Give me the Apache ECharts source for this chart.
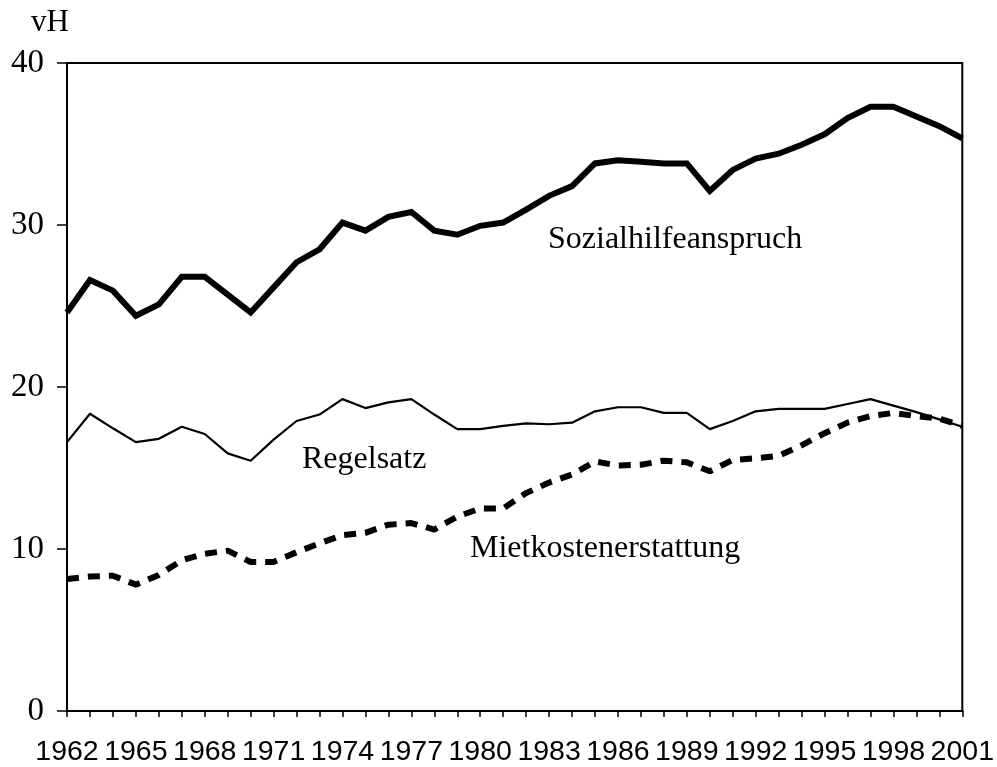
<!DOCTYPE html>
<html>
<head>
<meta charset="utf-8">
<script src="https://cdn.jsdelivr.net/npm/echarts@6/dist/echarts.min.js"></script>
<style>html,body{margin:0;padding:0;background:#fff;}#c{width:997px;height:767px;}</style>
</head>
<body>
<div id="c"></div>
<script>
var years = [];
for (var y = 1962; y <= 2001; y++) years.push(String(y));

var sozialhilfe = [24.6,26.6,25.95,24.4,25.1,26.8,26.8,25.7,24.6,26.15,27.7,28.5,30.15,29.65,30.5,
  30.8,29.65,29.4,29.95,30.15,30.95,31.8,32.4,33.8,34.0,33.9,33.8,33.8,32.1,33.4,34.1,34.4,
  34.95,35.6,36.6,37.3,37.3,36.7,36.1,35.35];
var regelsatz = [16.6,18.35,17.45,16.6,16.8,17.55,17.1,15.9,15.45,16.75,17.9,18.3,19.25,18.7,19.05,
  19.25,18.3,17.4,17.4,17.6,17.75,17.7,17.8,18.5,18.75,18.75,18.4,18.4,17.4,17.9,18.5,18.65,
  18.65,18.65,18.95,19.25,18.85,18.45,18.0,17.55];
var mietkosten = [8.15,8.3,8.35,7.8,8.4,9.3,9.7,9.9,9.2,9.2,9.8,10.35,10.85,11.0,11.5,
  11.6,11.2,12.0,12.5,12.5,13.45,14.1,14.6,15.4,15.15,15.2,15.45,15.35,14.8,15.5,15.6,15.75,
  16.4,17.15,17.8,18.2,18.4,18.2,18.05,17.6];
var yTicks = [0, 10, 20, 30, 40];

var chart = echarts.init(document.getElementById('c'), null, {renderer: 'canvas'});
var serif = '"Liberation Serif","Times New Roman",serif';
var sans = '"Liberation Sans",Arial,sans-serif';

chart.setOption({
  animation: false,
  backgroundColor: '#fff',
  grid: {left: 67, right: 32, top: 63, bottom: 56, show: true, borderColor: '#000', borderWidth: 2, backgroundColor: 'transparent'},
  xAxis: {
    type: 'category', data: years, boundaryGap: false,
    axisLine: {lineStyle: {color: '#000', width: 2}},
    axisTick: {show: true, interval: 0, length: 6, lineStyle: {color: '#000', width: 1.5}},
    axisLabel: {interval: 2, color: '#000', fontFamily: sans, fontSize: 28.5, margin: 27},
    splitLine: {show: false}
  },
  yAxis: {
    type: 'value', min: yTicks[0], max: yTicks[yTicks.length - 1], interval: 10,
    axisLine: {show: true, lineStyle: {color: '#000', width: 2}},
    axisTick: {show: true, length: 10, lineStyle: {color: '#000', width: 1.5}},
    axisLabel: {color: '#000', fontFamily: serif, fontSize: 33, margin: 23},
    splitLine: {show: false}
  },
  series: [
    {name: 'Sozialhilfeanspruch', type: 'line', data: sozialhilfe, symbol: 'none',
     lineStyle: {color: '#000', width: 6, join: 'miter'}},
    {name: 'Regelsatz', type: 'line', data: regelsatz, symbol: 'none',
     lineStyle: {color: '#000', width: 2.2}},
    {name: 'Mietkostenerstattung', type: 'line', data: mietkosten, symbol: 'none',
     lineStyle: {color: '#000', width: 6, type: [12, 9], cap: 'butt'}}
  ],
  graphic: [
    {type: 'text', left: 31, top: 7, style: {text: 'vH', font: '31px ' + serif, fill: '#000'}},
    {type: 'text', left: 548, top: 224, style: {text: 'Sozialhilfeanspruch', font: '32px ' + serif, fill: '#000'}},
    {type: 'text', left: 302, top: 444, style: {text: 'Regelsatz', font: '32px ' + serif, fill: '#000'}},
    {type: 'text', left: 470, top: 533, style: {text: 'Mietkostenerstattung', font: '32px ' + serif, fill: '#000'}}
  ]
});
</script>
</body>
</html>
